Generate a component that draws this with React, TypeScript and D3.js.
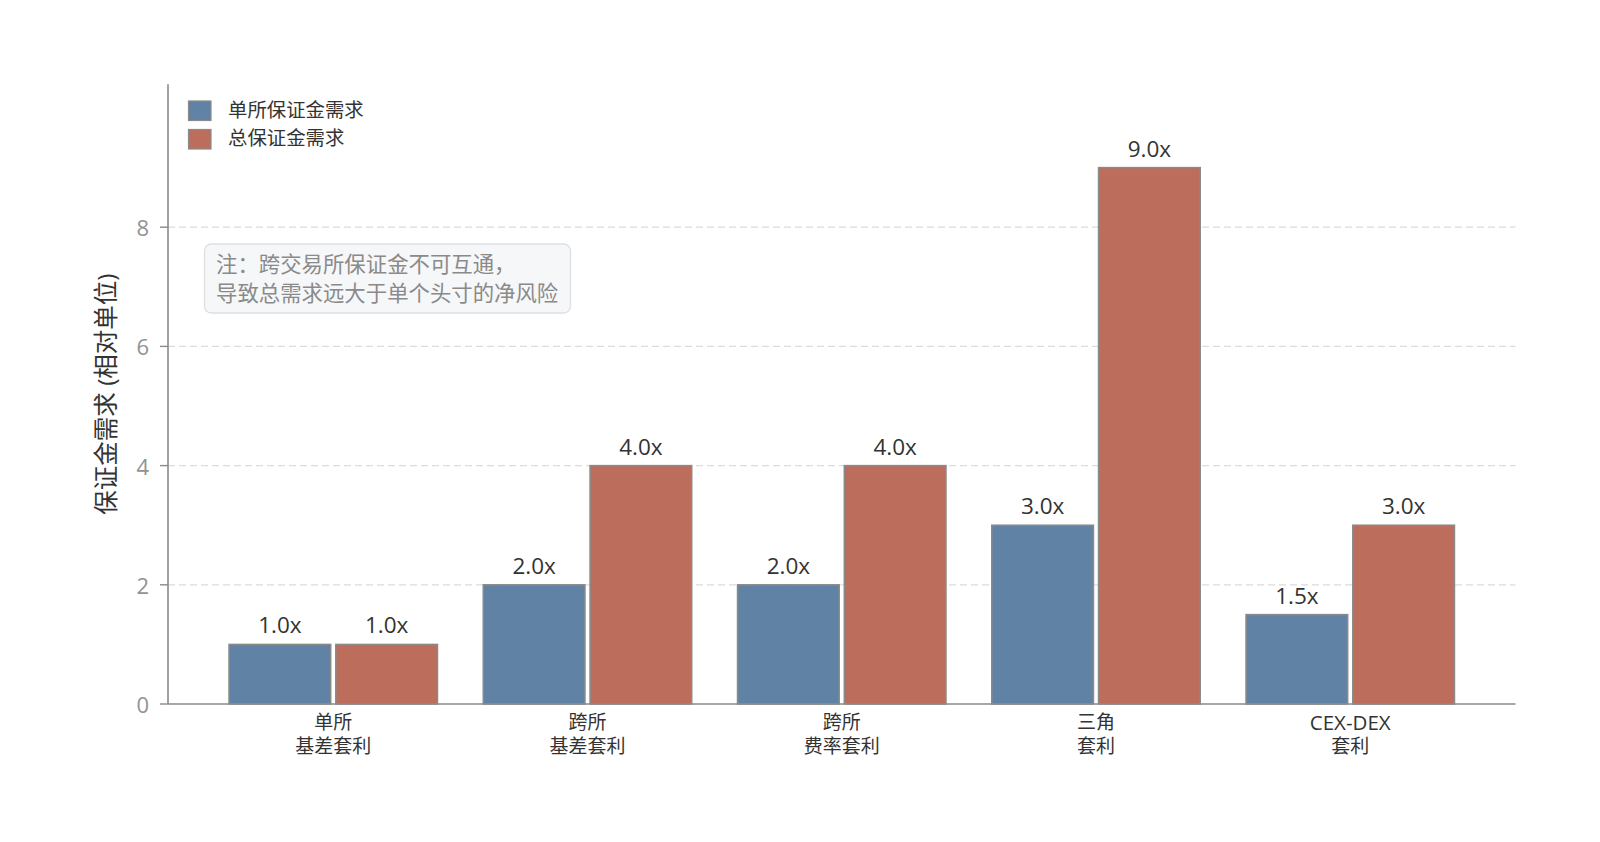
import React from "react";
import * as d3 from "d3";

const categories: string[][] = [
  ["单所", "基差套利"],
  ["跨所", "基差套利"],
  ["跨所", "费率套利"],
  ["三角", "套利"],
  ["CEX-DEX", "套利"],
];
const singleMargin: number[] = [1.0, 2.0, 2.0, 3.0, 1.5];
const totalMargin: number[] = [1.0, 4.0, 4.0, 9.0, 3.0];
const seriesNames: string[] = ["单所保证金需求", "总保证金需求"];
const yTicks: number[] = [0, 2, 4, 6, 8];
const yLabel = "保证金需求 (相对单位)";
const noteLines: string[] = ["注：跨交易所保证金不可互通，", "导致总需求远大于单个头寸的净风险"];

const COLORS = ["#6083a5", "#bd6d5b"];
const FONT = "'Open Sans', 'Noto Sans CJK SC', sans-serif";

export default function App() {
  const W = 1600;
  const H = 842;
  const x = d3.scaleLinear().domain([-0.65, categories.length - 1 + 0.65]).range([168, 1515.5]);
  const y = d3.scaleLinear().domain([0, 10.4]).range([704, 704 - 10.4 * 59.6]);
  const unit = x(1) - x(0);
  const barW = unit * 0.4;
  const off = unit * 0.21;
  const series = [singleMargin, totalMargin];
  const [x0, x1] = x.range();
  const [yb, yt] = y.range();
  const isLatin = (s: string) => /^[\x00-\x7f]+$/.test(s);

  return (
    <svg width={W} height={H} style={{ position: "absolute", left: 0, top: 0, background: "#fff" }} fontFamily={FONT}>
      {/* grid */}
      {yTicks.filter((t) => t > 0).map((t) => (
        <line key={"g" + t} x1={x0} x2={x1} y1={y(t)} y2={y(t)} stroke="#dcdcdc" strokeWidth={1.2} strokeDasharray="7,4" />
      ))}
      {/* bars */}
      {series.map((vals, si) =>
        vals.map((v, i) => {
          const cx = x(i) + (si === 0 ? -off : off);
          return (
            <g key={`b${si}-${i}`}>
              <rect x={cx - barW / 2} y={y(v)} width={barW} height={y(0) - y(v)} fill={COLORS[si]} stroke="#8a8a8a" strokeWidth={1.5} />
              <text x={cx} y={y(v) - 11} textAnchor="middle" fontSize={22.5} fill="#333">
                {v.toFixed(1) + "x"}
              </text>
            </g>
          );
        })
      )}
      {/* axes */}
      <line x1={x0} x2={x0} y1={yb} y2={yt} stroke="#8a8a8a" strokeWidth={1.6} />
      <line x1={x0} x2={x1} y1={yb} y2={yb} stroke="#8a8a8a" strokeWidth={1.6} />
      {yTicks.map((t) => (
        <g key={"t" + t}>
          <line x1={x0 - 8} x2={x0} y1={y(t)} y2={y(t)} stroke="#8a8a8a" strokeWidth={1.4} />
          <text x={x0 - 19} y={y(t)} textAnchor="end" dominantBaseline="central" fontSize={22} fill="#929292">
            {t}
          </text>
        </g>
      ))}
      {categories.map((lines, i) => (
        <g key={"c" + i}>
          {lines.map((l, li) => (
            <text
              key={li}
              x={x(i)}
              y={721.5 + li * 24.5}
              textAnchor="middle"
              dominantBaseline="central"
              fontSize={isLatin(l) ? 20.5 : 19}
              fill="#333"
            >
              {l}
            </text>
          ))}
        </g>
      ))}
      <text
        transform={`translate(105, ${(yb + yt) / 2}) rotate(-90)`}
        textAnchor="middle"
        dominantBaseline="central"
        fontSize={24.5}
        fill="#333"
      >
        {yLabel}
      </text>
      {/* legend */}
      {seriesNames.map((n, i) => (
        <g key={"l" + i}>
          <rect x={188.5} y={101 + i * 28.5} width={22.5} height={19.5} fill={COLORS[i]} stroke="#8a8a8a" strokeWidth={1.2} />
          <text x={228} y={109 + i * 28.5} dominantBaseline="central" fontSize={19.4} fill="#333">
            {n}
          </text>
        </g>
      ))}
      {/* note */}
      <rect x={204.5} y={244} width={366} height={69} rx={7} fill="#f6f7f9" stroke="#dedfe2" strokeWidth={1.3} />
      {noteLines.map((l, i) => (
        <text key={"n" + i} x={216} y={263 + i * 29.5} dominantBaseline="central" fontSize={21.4} fill="#8a8a8a">
          {l}
        </text>
      ))}
    </svg>
  );
}
